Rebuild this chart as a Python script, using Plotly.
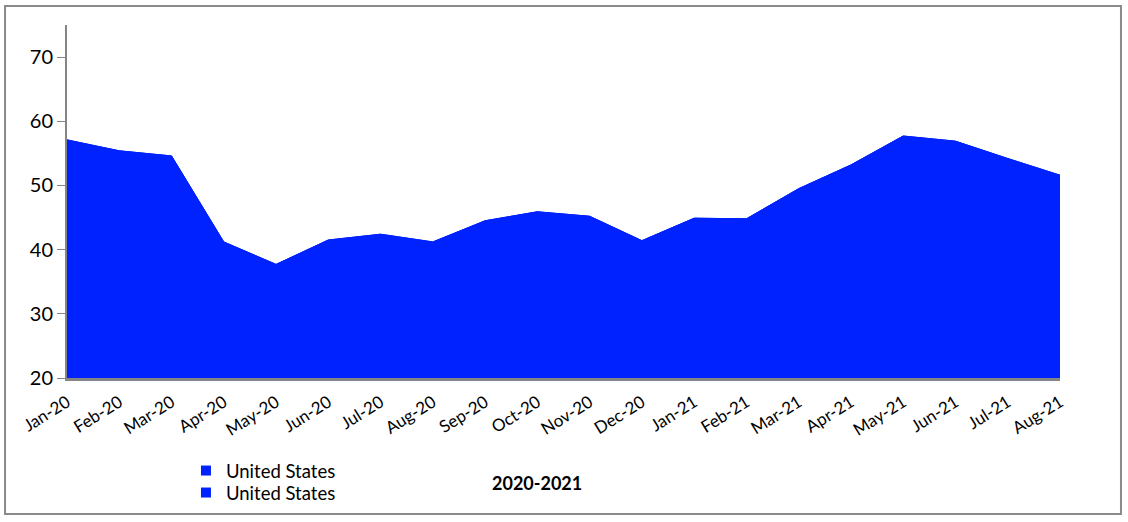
import plotly.graph_objects as go

months = ["Jan-20", "Feb-20", "Mar-20", "Apr-20", "May-20", "Jun-20", "Jul-20",
          "Aug-20", "Sep-20", "Oct-20", "Nov-20", "Dec-20", "Jan-21", "Feb-21",
          "Mar-21", "Apr-21", "May-21", "Jun-21", "Jul-21", "Aug-21"]
us_values = [57.1, 55.4, 54.6, 41.2, 37.7, 41.5, 42.4, 41.2, 44.5, 45.9,
             45.2, 41.4, 44.9, 44.8, 49.5, 53.2, 57.7, 56.9, 54.2, 51.6]
series_names = ["United States", "United States"]
y_ticks = [20, 30, 40, 50, 60, 70]

BLUE = "rgb(0,34,255)"
FONT = "Lato"

fig = go.Figure()
legend_ids = ["legend", "legend2"]
for name, lg in zip(series_names, legend_ids):
    fig.add_trace(go.Scatter(
        x=months, y=us_values, name=name, mode="lines",
        fill="tozeroy", fillcolor=BLUE,
        line=dict(color=BLUE, width=1),
        showlegend=False, hoverinfo="x+y",
    ))
    fig.add_trace(go.Scatter(
        x=[None], y=[None], name=name, mode="markers",
        marker=dict(symbol="square", size=10, color=BLUE),
        showlegend=True, legend=lg,
    ))

legend_style = dict(xanchor="left", yanchor="middle",
                    font=dict(size=18.5, family=FONT, color="black"),
                    itemwidth=30, bgcolor="rgba(0,0,0,0)", borderwidth=0)

fig.update_layout(
    width=1128, height=522,
    margin=dict(l=67, r=68, t=25, b=144, autoexpand=False),
    paper_bgcolor="white", plot_bgcolor="white",
    font=dict(family=FONT, color="black"),
    legend=dict(x=0.1198, y=-0.2635, **legend_style),
    legend2=dict(x=0.1198, y=-0.3258, **legend_style),
    xaxis=dict(
        type="category", range=[0, len(months) - 1], automargin=False,
        showgrid=False, zeroline=False,
        showline=True, linecolor="#858585", linewidth=3,
        ticks="", tickangle=-32, ticklabelstandoff=5,
        tickfont=dict(size=17, family=FONT, color="black"),
    ),
    yaxis=dict(
        range=[20, 75], tickvals=y_ticks, automargin=False,
        showgrid=False, zeroline=False,
        showline=True, linecolor="#858585", linewidth=2,
        ticks="outside", ticklen=8, tickcolor="#858585", tickwidth=1,
        tickfont=dict(size=20, family=FONT, color="black"),
    ),
    shapes=[dict(type="rect", xref="paper", yref="paper",
                 x0=-0.0624, x1=1.0614, y0=-0.385, y1=1.054,
                 line=dict(color="#8a8a8a", width=2), fillcolor="rgba(0,0,0,0)",
                 layer="below")],
    annotations=[dict(text="<b>2020-2021</b>", xref="paper", yref="paper",
                      x=0.473, y=-0.297, xanchor="center", yanchor="middle",
                      showarrow=False, font=dict(size=18, family=FONT, color="black"))],
)

fig.write_html("out.html", config={"displayModeBar": False},
               post_script="document.body.style.margin='0';")
